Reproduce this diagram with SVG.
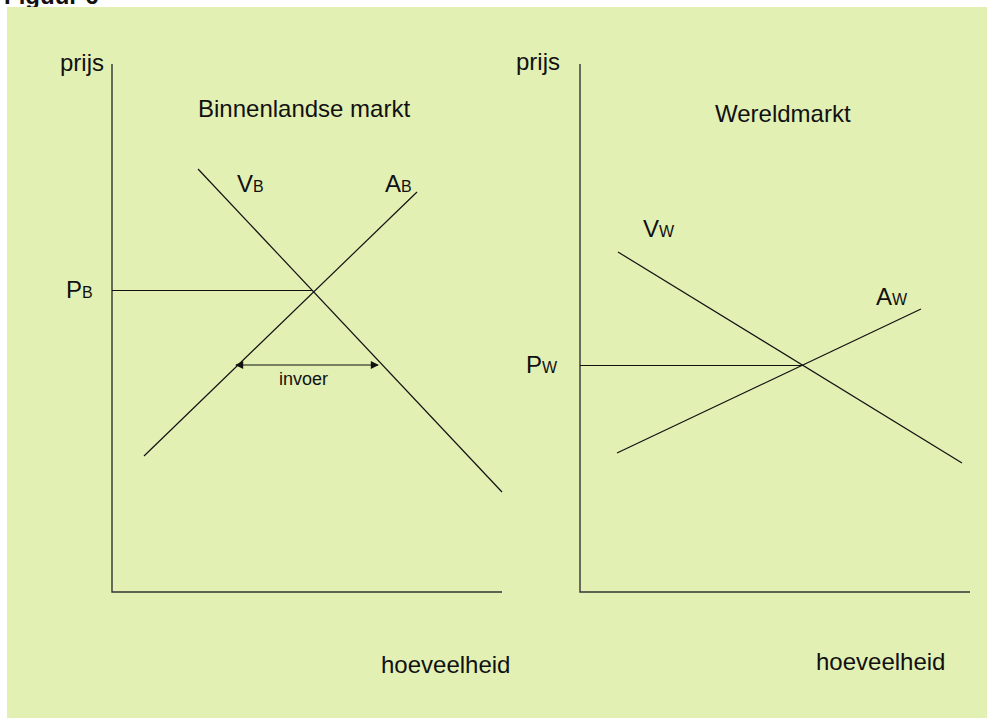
<svg xmlns="http://www.w3.org/2000/svg" width="987" height="718" viewBox="0 0 987 718">
  <defs>
    <style>
      text { font-family: "Liberation Sans", Arial, sans-serif; fill: #111; }
      .lbl { font-size: 24px; }
      .sub { font-size: 16px; }
      .small { font-size: 18px; }
      .axis { stroke: #333; stroke-width: 1.4; fill: none; }
      .curve { stroke: #111; stroke-width: 1.2; fill: none; }
    </style>
    <marker id="ah" viewBox="0 0 10 10" refX="9" refY="5" markerWidth="10" markerHeight="8" markerUnits="userSpaceOnUse" orient="auto-start-reverse">
      <path d="M0,0 L10,5 L0,10 z" fill="#111"/>
    </marker>
  </defs>
  <rect x="0" y="0" width="987" height="718" fill="#ffffff"/>
  <text x="4" y="4" style="font-size:24px;font-weight:bold">Figuur 6</text>
  <rect x="7" y="7" width="980" height="711" fill="#e3f0b4"/>

  <g id="axes">
    <g id="axes-left">
      <polyline class="axis" points="112,64 112,592 502,592"/>
      <text class="lbl" x="60" y="71">prijs</text>
      <text class="lbl" x="381" y="673">hoeveelheid</text>
      <text class="lbl" x="198" y="117">Binnenlandse markt</text>
    </g>
    <g id="axes-right">
      <polyline class="axis" points="580,64 580,592 970,592"/>
      <text class="lbl" x="516" y="70">prijs</text>
      <text class="lbl" x="816" y="670">hoeveelheid</text>
      <text class="lbl" x="715" y="122">Wereldmarkt</text>
    </g>
  </g>

  <g id="connectors">
    <line id="VB" class="curve" x1="198" y1="169" x2="502" y2="492"/>
    <line id="AB" class="curve" x1="144" y1="456" x2="417" y2="192"/>
    <line id="PB-line" class="curve" x1="112" y1="290.5" x2="313" y2="290.5"/>
    <line id="invoer-arrow" class="curve" x1="236" y1="365" x2="378" y2="365" stroke-width="1.8" marker-start="url(#ah)" marker-end="url(#ah)"/>
    <line id="VW" class="curve" x1="618" y1="252" x2="962" y2="463"/>
    <line id="AW" class="curve" x1="617" y1="453" x2="921" y2="309"/>
    <line id="PW-line" class="curve" x1="580" y1="365.5" x2="802" y2="365.5"/>
  </g>

  <g id="label-VB"><text class="lbl" x="237" y="192">V<tspan class="sub">B</tspan></text></g>
  <g id="label-AB"><text class="lbl" x="385" y="192">A<tspan class="sub">B</tspan></text></g>
  <g id="label-PB"><text class="lbl" x="66" y="298">P<tspan class="sub">B</tspan></text></g>
  <g id="label-invoer"><text class="small" x="279" y="385">invoer</text></g>
  <g id="label-VW"><text class="lbl" x="643" y="237">V<tspan class="sub">W</tspan></text></g>
  <g id="label-AW"><text class="lbl" x="876" y="305">A<tspan class="sub">W</tspan></text></g>
  <g id="label-PW"><text class="lbl" x="526" y="373">P<tspan class="sub">W</tspan></text></g>
</svg>
